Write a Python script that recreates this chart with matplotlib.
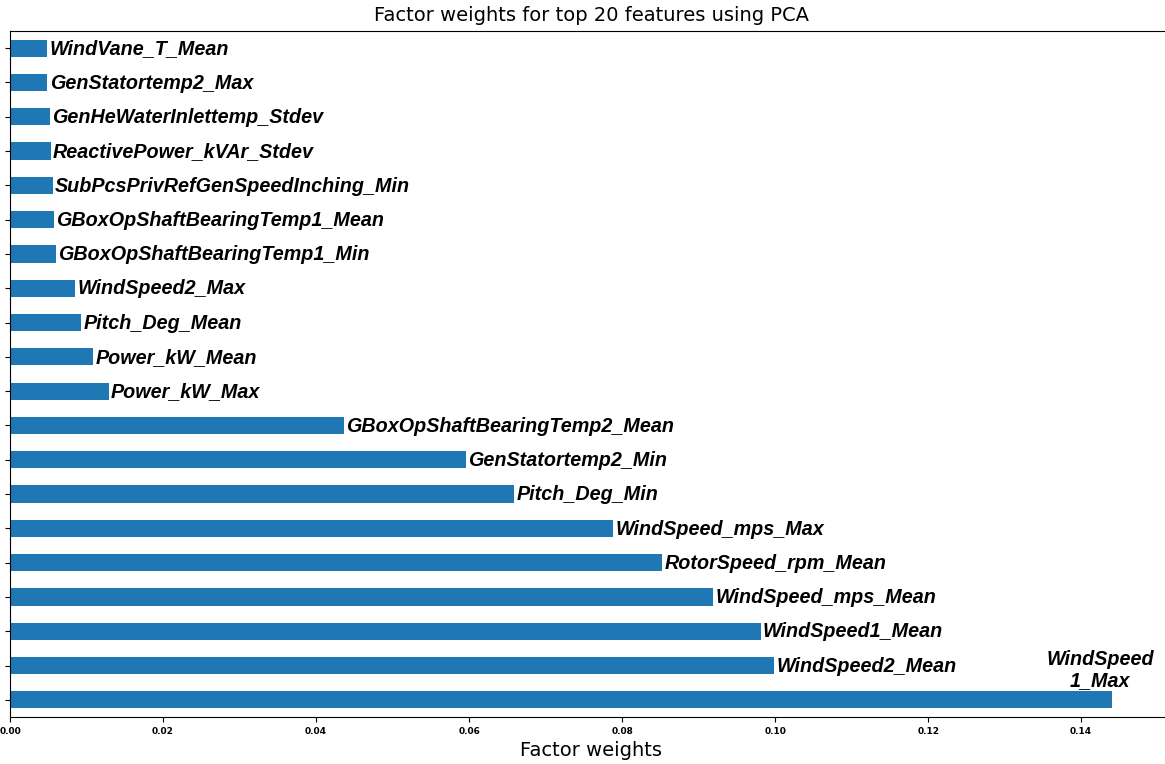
import numpy as np
import matplotlib.pyplot as plt

# top 20 features, bottom bar first
features = ['WindSpeed1_Max', 'WindSpeed2_Mean', 'WindSpeed1_Mean', 'WindSpeed_mps_Mean',
            'RotorSpeed_rpm_Mean', 'WindSpeed_mps_Max', 'Pitch_Deg_Min', 'GenStatortemp2_Min',
            'GBoxOpShaftBearingTemp2_Mean', 'Power_kW_Max', 'Power_kW_Mean', 'Pitch_Deg_Mean',
            'WindSpeed2_Max', 'GBoxOpShaftBearingTemp1_Min', 'GBoxOpShaftBearingTemp1_Mean',
            'SubPcsPrivRefGenSpeedInching_Min', 'ReactivePower_kVAr_Stdev',
            'GenHeWaterInlettemp_Stdev', 'GenStatortemp2_Max', 'WindVane_T_Mean']
weights = [0.1440, 0.0999, 0.0981, 0.0919, 0.0852, 0.0788, 0.0659, 0.0596,
           0.0436, 0.0129, 0.0109, 0.0093, 0.0085, 0.0060, 0.0057,
           0.0056, 0.0053, 0.0052, 0.0049, 0.0049]
xticks = [0.00, 0.02, 0.04, 0.06, 0.08, 0.10, 0.12, 0.14]


def main():
	fig = plt.figure(figsize=(11.65, 7.64), dpi=100)
	ax = fig.add_axes([10/1165, 47/764, 1163/1165, 686/764])
	y = np.arange(len(features))
	ax.barh(y, weights, height=0.5, color='#1f77b4')
	ax.set_ylim(-0.5, len(features) - 0.5)
	ax.set_xlim(0, 0.152)
	ax.set_yticks(y)
	ax.set_yticklabels([])
	ax.set_xticks(xticks)
	ax.set_xticklabels(['%.2f' % t for t in xticks], fontsize=6.5, fontweight='bold')
	ax.spines['right'].set_visible(False)

	for i, (name, w) in enumerate(zip(features, weights)):
		if i == 0:
			# the longest bar gets a wrapped label above its end
			ax.text(w - 0.0015, i + 0.87, 'WindSpeed\n1_Max', ha='center', va='center',
					fontsize=14.2, fontweight='bold', fontstyle='italic',
					family='Liberation Sans', linespacing=1.15)
		else:
			ax.text(w + 0.0003, i - 0.02, name, ha='left', va='center',
					fontsize=14.2, fontweight='bold', fontstyle='italic',
					family='Liberation Sans')

	ax.set_title('Factor weights for top 20 features using PCA', fontsize=14, pad=7)
	ax.set_xlabel('Factor weights', fontsize=14, labelpad=4)
	fig.savefig('out.png', dpi=100)


if __name__ == '__main__':
	main()
